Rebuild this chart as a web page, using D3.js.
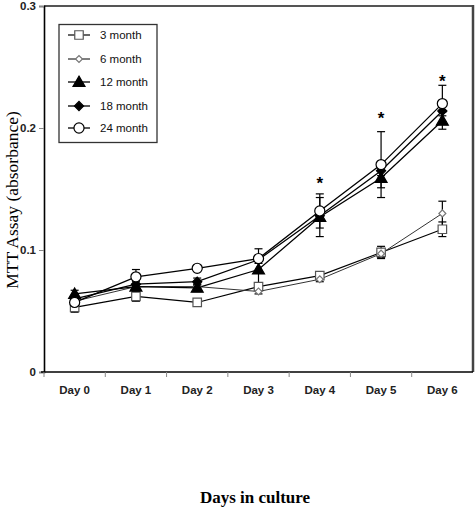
<!DOCTYPE html>
<html><head><meta charset="utf-8">
<script src="https://cdn.jsdelivr.net/npm/d3@7"></script>
<style>body{margin:0;background:#fff}svg{display:block}</style>
</head><body>
<svg id="c" width="475" height="508"></svg>
<script>
const days = ["Day 0","Day 1","Day 2","Day 3","Day 4","Day 5","Day 6"];
const yTicks = [0, 0.1, 0.2, 0.3];
const yTickLabels = ["0", "0.1", "0.2", "0.3"];
const seriesNames = ["3 month","6 month","12 month","18 month","24 month"];
const m3  = [0.053, 0.062, 0.057, 0.070, 0.079, 0.098, 0.117];
const m3e = [0.004, 0.004, 0.002, 0.003, 0.003, 0.005, 0.006];
const m6  = [0.058, 0.070, 0.070, 0.066, 0.076, 0.097, 0.130];
const m6e = [0.002, 0.002, 0.002, 0.002, 0.002, 0.003, 0.010];
const m12 = [0.064, 0.070, 0.069, 0.084, 0.127, 0.159, 0.206];
const m12e= [0.003, 0.004, 0.003, 0.017, 0.016, 0.008, 0.007];
const m18 = [0.060, 0.072, 0.074, 0.092, 0.128, 0.165, 0.214];
const m18e= [0.002, 0.003, 0.003, 0.003, 0.004, 0.004, 0.004];
const m24 = [0.057, 0.078, 0.085, 0.093, 0.132, 0.170, 0.220];
const m24e= [0.003, 0.006, 0.002, 0.002, 0.014, 0.027, 0.015];
const starDays = ["Day 4","Day 5","Day 6"];
const starValues = [0.157, 0.211, 0.241];

const series = [
  {name: seriesNames[0], v: m3,  e: m3e,  sym: d3.symbolSquare,   size: 72, rot: 0,  fill: "#fff", stroke: "#555", lw: 1.2},
  {name: seriesNames[1], v: m6,  e: m6e,  sym: d3.symbolSquare,   size: 24, rot: 45, fill: "#fff", stroke: "#777", lw: 1.0},
  {name: seriesNames[2], v: m12, e: m12e, sym: d3.symbolTriangle, size: 62, rot: 0,  fill: "#000", stroke: "#000", lw: 1.3},
  {name: seriesNames[3], v: m18, e: m18e, sym: d3.symbolSquare,   size: 42, rot: 45, fill: "#000", stroke: "#000", lw: 1.3},
  {name: seriesNames[4], v: m24, e: m24e, sym: d3.symbolCircle,   size: 80, rot: 0,  fill: "#fff", stroke: "#000", lw: 1.3}
];

const svg = d3.select("#c");
const L = 44, R = 473, T = 6, B = 372;
const x = d3.scaleBand().domain(days).range([L, R]);
const y = d3.scaleLinear().domain([0, 0.3]).range([B, T]);
const cx = d => x(d) + x.bandwidth()/2;

// frame top / right
svg.append("line").attr("x1", L).attr("x2", R).attr("y1", y(0.3)).attr("y2", y(0.3))
  .attr("stroke", "#555").attr("stroke-width", 2);
svg.append("line").attr("x1", R).attr("x2", R).attr("y1", y(0.3)-1).attr("y2", B)
  .attr("stroke", "#444").attr("stroke-width", 2.5);

// y axis
const yAxis = svg.append("g").attr("transform", `translate(${L},0)`)
  .call(d3.axisLeft(y).tickValues(yTicks).tickFormat((d,i)=>yTickLabels[i]).tickSize(5).tickPadding(3));
yAxis.select(".domain").attr("stroke", "#000").attr("stroke-width", 1.6);
yAxis.selectAll(".tick line").attr("stroke", "#888");
yAxis.selectAll("text").attr("font-family", "Liberation Sans, Arial, sans-serif")
  .attr("font-size", 11.5).attr("font-weight", "bold").attr("fill", "#222");

// x axis with ticks at band boundaries
const xAxisG = svg.append("g").attr("transform", `translate(0,${B})`);
xAxisG.append("line").attr("x1", L-3).attr("x2", R).attr("stroke", "#000").attr("stroke-width", 1.6);
xAxisG.selectAll(".bt").data(days).enter().append("line")
  .attr("x1", d => x(d)).attr("x2", d => x(d)).attr("y1", 0).attr("y2", 5)
  .attr("stroke", "#888").attr("stroke-width", 1);
xAxisG.selectAll(".lab").data(days).enter().append("text")
  .attr("x", d => cx(d)).attr("y", 22).attr("text-anchor", "middle")
  .attr("font-family", "Liberation Sans, Arial, sans-serif").attr("font-size", 11.5)
  .attr("font-weight", "bold").attr("fill", "#222").text(d => d);

// axis titles
svg.append("text").attr("transform", "translate(18,200) rotate(-90)").attr("text-anchor", "middle")
  .attr("font-family", "Liberation Serif, Times New Roman, serif").attr("font-size", 17.5)
  .attr("fill", "#000").text("MTT Assay (absorbance)");
svg.append("text").attr("x", 255).attr("y", 503).attr("text-anchor", "middle")
  .attr("font-family", "Liberation Serif, Times New Roman, serif").attr("font-size", 17)
  .attr("font-weight", "bold").attr("fill", "#000").text("Days in culture");

// lines
const line = d3.line().x((d,i) => cx(days[i])).y(d => y(d));
series.forEach(s => {
  svg.append("path").datum(s.v).attr("d", line).attr("fill", "none")
    .attr("stroke", s === series[1] ? "#333" : "#000").attr("stroke-width", s.lw);
});
// error bars
series.forEach(s => {
  const g = svg.append("g").attr("stroke", "#000").attr("stroke-width", 1.2);
  s.v.forEach((v, i) => {
    const xx = cx(days[i]), lo = y(v - s.e[i]), hi = y(v + s.e[i]);
    g.append("line").attr("x1", xx).attr("x2", xx).attr("y1", lo).attr("y2", hi);
    g.append("line").attr("x1", xx-4).attr("x2", xx+4).attr("y1", lo).attr("y2", lo);
    g.append("line").attr("x1", xx-4).attr("x2", xx+4).attr("y1", hi).attr("y2", hi);
  });
});
// markers
series.forEach(s => {
  const sym = d3.symbol().type(s.sym).size(s.size);
  svg.append("g").selectAll("path").data(s.v).enter().append("path")
    .attr("d", sym)
    .attr("transform", (d,i) => `translate(${cx(days[i])},${y(d) + (s.sym === d3.symbolTriangle ? 1 : 0)}) rotate(${s.rot})`)
    .attr("fill", s.fill).attr("stroke", s.stroke).attr("stroke-width", 1.2);
});
// stars
svg.selectAll(".star").data(starValues).enter().append("text")
  .attr("x", (d,i) => cx(starDays[i])).attr("y", d => y(d) + 9)
  .attr("text-anchor", "middle")
  .attr("font-family", "Liberation Sans, Arial, sans-serif").attr("font-size", 17)
  .attr("font-weight", "bold").attr("fill", "#000").text("*");

// legend
const lg = svg.append("g");
lg.append("rect").attr("x", 59).attr("y", 24.5).attr("width", 98).attr("height", 118)
  .attr("fill", "#fff").attr("stroke", "#333").attr("stroke-width", 1.3);
const rowsY = [35, 59, 82, 106, 128];
series.forEach((s, i) => {
  const ry = rowsY[i];
  lg.append("line").attr("x1", 68).attr("x2", 90).attr("y1", ry).attr("y2", ry)
    .attr("stroke", "#000").attr("stroke-width", s.lw);
  lg.append("path").attr("d", d3.symbol().type(s.sym).size(s.size))
    .attr("transform", `translate(79,${ry + (s.sym === d3.symbolTriangle ? 1 : 0)}) rotate(${s.rot})`)
    .attr("fill", s.fill).attr("stroke", s.stroke).attr("stroke-width", 1.2);
  lg.append("text").attr("x", 100).attr("y", ry + 4)
    .attr("font-family", "Liberation Sans, Arial, sans-serif").attr("font-size", 11.5)
    .attr("fill", "#111").text(s.name);
});
</script>
</body></html>
